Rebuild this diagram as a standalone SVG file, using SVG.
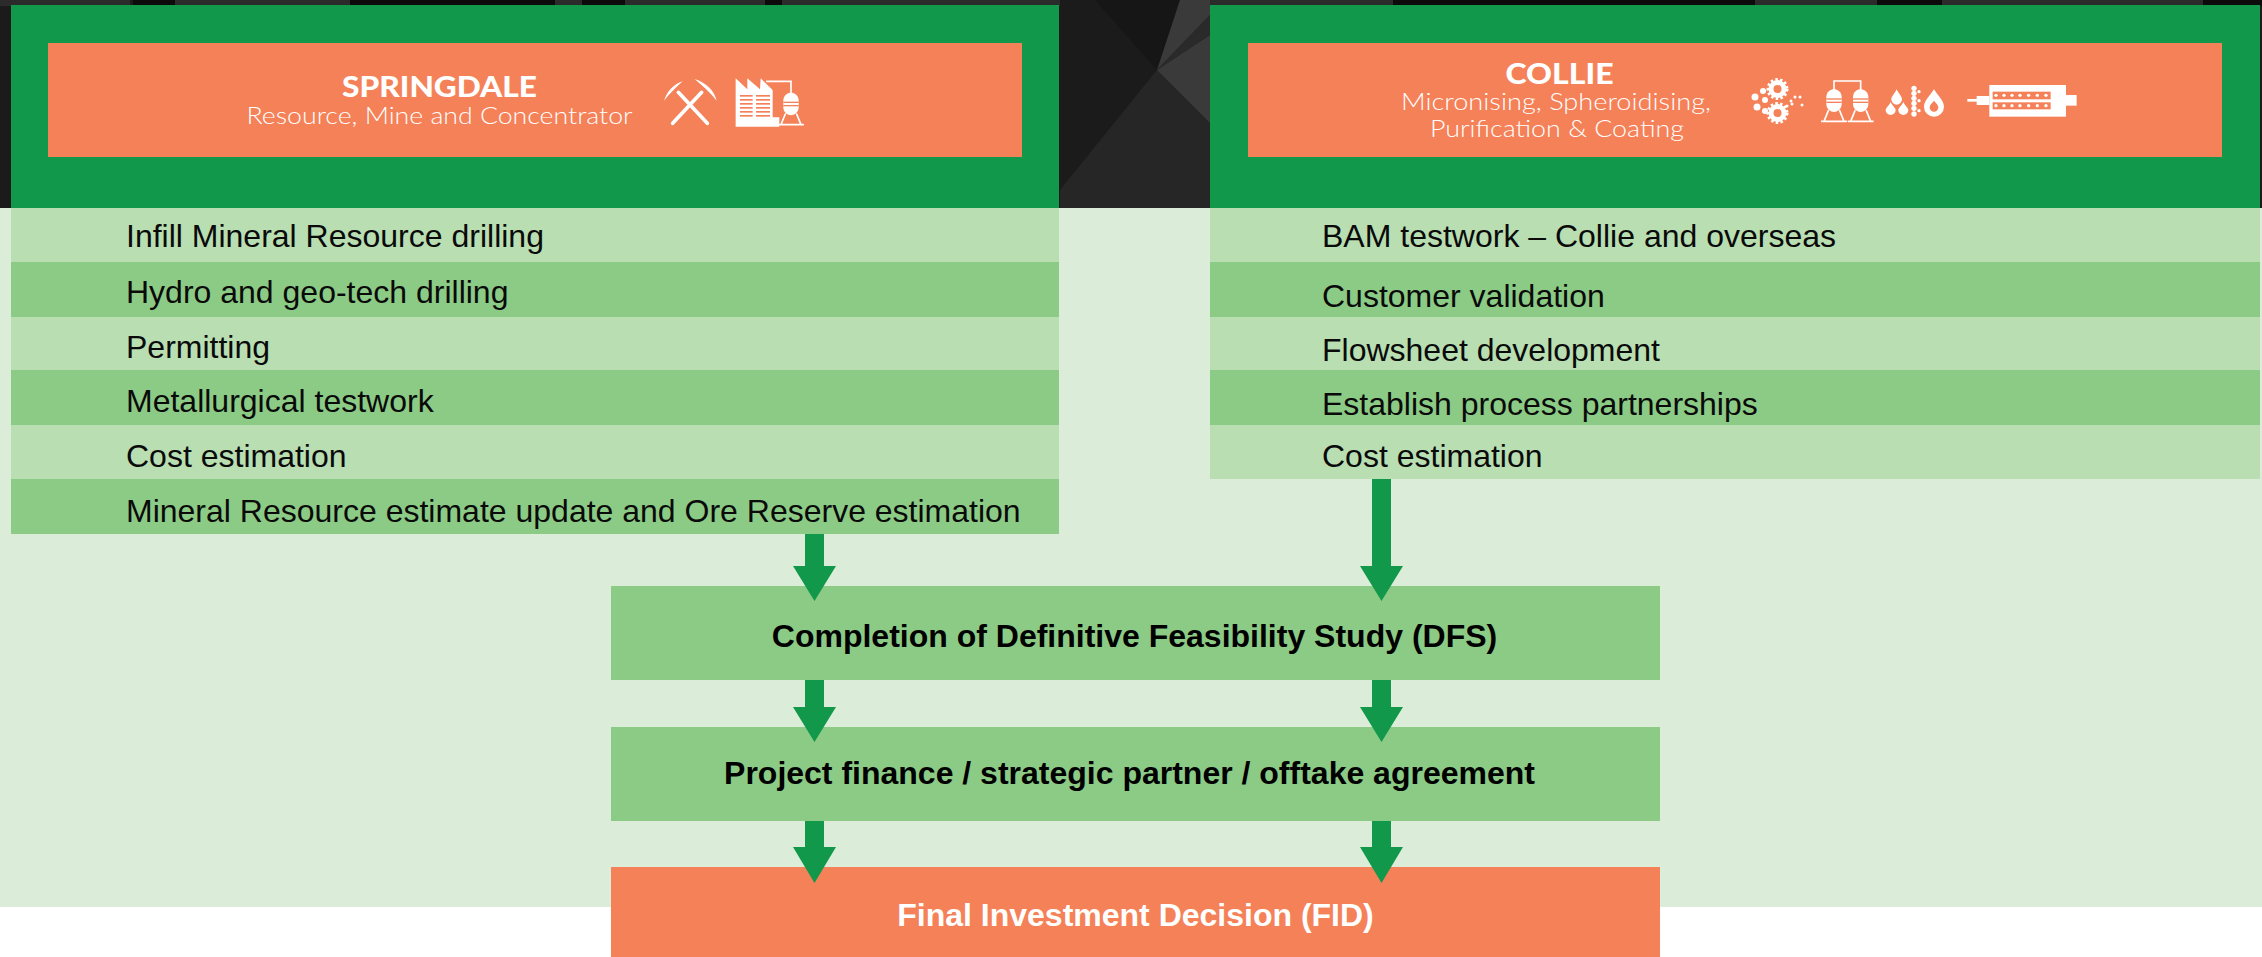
<svg xmlns="http://www.w3.org/2000/svg" width="2262" height="957" viewBox="0 0 2262 957">
<style>
.g{fill:#12984A}.o{fill:#F58158}.l{fill:#B8DEB2}.m{fill:#8CCB85}
.t{font-family:"Liberation Sans",Arial,sans-serif;font-size:32px;fill:#0a0a0a}
.b{font-family:"Liberation Sans",Arial,sans-serif;font-size:32px;font-weight:700;text-anchor:middle;fill:#000}
.h{font-family:Lato,"Open Sans",sans-serif;font-size:28px;font-weight:900;fill:#fff;text-anchor:middle}
.s{font-family:Lato,"Open Sans",sans-serif;font-size:23px;font-weight:300;fill:#fff;text-anchor:middle}
.w{fill:#fff}.ws{fill:none;stroke:#fff;stroke-linecap:round}
.a{fill:#12984A}
</style>
<defs>
<g id="tank"><path class="w" d="M-23 -10C-23 -26 -10 -34 0 -34C10 -34 23 -26 23 -10V10C23 26 10 34 0 34C-10 34 -23 26 -23 10Z"/><rect class="o" x="-23" y="-7" width="46" height="4"/><rect class="o" x="-23" y="3" width="46" height="4"/><path class="ws" stroke-width="5" d="M-17 30L-30 62M17 30L30 62M-37 62H37"/></g>
</defs>
<g id="background">
<rect width="2262" height="957" fill="#fff"/>
<rect width="2262" height="208" fill="#1b1b1b"/>
<g fill="#2b2b2b"><rect width="130" height="6"/><rect x="175" width="175" height="6"/><rect x="555" width="27" height="6"/><rect x="625" width="140" height="6"/><rect x="782" width="278" height="6"/><rect x="1200" width="193" height="6"/><rect x="1755" width="122" height="6"/><rect x="1942" width="261" height="6"/></g>
<g fill="#0c0a0a"><rect x="133" width="42" height="6"/><rect x="350" width="205" height="6"/><rect x="582" width="43" height="6"/><rect x="765" width="17" height="6"/><rect x="1393" width="362" height="6"/><rect x="1877" width="65" height="6"/><rect x="2203" width="59" height="6"/></g>
<polygon points="1060,190 1157,70 1210,123 1210,208 1060,208" fill="#262626"/>
<polygon points="1095,0 1180,0 1157,70" fill="#161616"/>
<polygon points="1180,0 1210,0 1210,15 1157,70" fill="#3a3a3a"/>
<polygon points="1210,15 1210,35 1157,70" fill="#2a2a2a"/>
<polygon points="1210,35 1210,123 1157,70" fill="#3a3a3a"/>
<rect y="208" width="2262" height="699" fill="#DBEDD8"/>
</g>
<g id="springdale">
<rect class="g" x="11" y="5" width="1048" height="203"/>
<rect class="o" x="48" y="43" width="974" height="114"/>
<text class="h" x="439.500" y="97" textLength="195" lengthAdjust="spacingAndGlyphs">SPRINGDALE</text>
<text class="s" x="439.500" y="124" textLength="386" lengthAdjust="spacingAndGlyphs">Resource, Mine and Concentrator</text>
<g transform="translate(620 30) scale(.3333)">
<path class="ws" stroke-width="11" d="M158 280L245 187M262 280L175 187"/>
<path class="w" d="M224 147C258 158 282 180 290 212C272 188 250 170 224 147ZM188 154C162 162 142 182 132 212C150 190 168 172 188 154Z"/>
<polygon class="w" points="347,290 347,145 382,178 382,145 420,178 422,145 458,180 458,262 478,262 478,290"/>
<g class="o"><rect x="360" y="195" width="38" height="5"/><rect x="360" y="207" width="38" height="5"/><rect x="360" y="219" width="38" height="5"/><rect x="360" y="231" width="38" height="5"/><rect x="360" y="243" width="38" height="5"/><rect x="360" y="255" width="38" height="5"/><rect x="408" y="195" width="42" height="5"/><rect x="408" y="207" width="42" height="5"/><rect x="408" y="219" width="42" height="5"/><rect x="408" y="231" width="42" height="5"/><rect x="408" y="243" width="42" height="5"/><rect x="408" y="255" width="42" height="5"/></g>
<path class="ws" stroke-width="5" d="M440 154H513V190"/>
<use href="#tank" transform="translate(513 222)"/>
</g>
</g>
<g id="collie">
<rect class="g" x="1210" y="5" width="1050" height="203"/>
<rect class="o" x="1248" y="43" width="974" height="114"/>
<text class="h" x="1559.500" y="84" textLength="108" lengthAdjust="spacingAndGlyphs">COLLIE</text>
<text class="s" x="1556" y="110" textLength="310" lengthAdjust="spacingAndGlyphs">Micronising, Spheroidising,</text>
<text class="s" x="1557" y="137" textLength="254" lengthAdjust="spacingAndGlyphs">Purification &amp; Coating</text>
<g id="gears">
<circle cx="1777.500" cy="89" r="6.500" fill="none" stroke="#fff" stroke-width="5"/><circle cx="1777.500" cy="89" r="9.500" fill="none" stroke="#fff" stroke-width="3" stroke-dasharray="2.500 2.200"/>
<circle cx="1777.500" cy="113" r="6.500" fill="none" stroke="#fff" stroke-width="5"/><circle cx="1777.500" cy="113" r="9.500" fill="none" stroke="#fff" stroke-width="3" stroke-dasharray="2.500 2.200"/>
<g class="w"><circle cx="1755" cy="97" r="3.500"/><circle cx="1763" cy="91" r="3"/><circle cx="1757" cy="107" r="3.500"/><circle cx="1765" cy="100" r="3"/><circle cx="1765" cy="111" r="3"/><circle cx="1791" cy="101" r="1.500"/><circle cx="1795" cy="97" r="1.500"/><circle cx="1800" cy="97" r="1.500"/><circle cx="1792" cy="104" r="1.500"/><circle cx="1802" cy="105" r="1.500"/><circle cx="1787" cy="106" r="1.500"/></g>
</g>
<g transform="translate(1780 40) scale(.3333)">
<path class="ws" stroke-width="5" d="M162 150V123H242V150"/>
<use href="#tank" transform="translate(162 182)"/>
<use href="#tank" transform="translate(242 182)"/>
<g class="w">
<path d="M350 148C357 162 366 170 366 178A16 16 0 0 1 334 178C334 170 343 162 350 148Z"/>
<path d="M332 186C338 198 347 204 347 210A15 15 0 0 1 317 210C317 204 326 198 332 186Z"/>
<path d="M370 186C376 198 385 204 385 210A15 15 0 0 1 355 210C355 204 364 198 370 186Z"/>
<circle cx="402" cy="145" r="8"/><circle cx="402" cy="160" r="8"/><circle cx="402" cy="175" r="8"/><circle cx="402" cy="190" r="8"/><circle cx="402" cy="205" r="8"/><circle cx="402" cy="222" r="8"/><circle cx="417" cy="155" r="5"/><circle cx="417" cy="182" r="5"/><circle cx="417" cy="212" r="5"/>
<path fill-rule="evenodd" d="M462 148C472 165 492 182 492 200A30 30 0 0 1 432 200C432 182 452 165 462 148ZM462 182C455 190 449 196 449 202A13 13 0 0 0 475 202C475 196 469 190 462 182Z"/>
<rect x="628" y="135" width="230" height="95"/><rect x="590" y="168" width="38" height="27"/><rect x="562" y="177" width="30" height="8"/><rect x="858" y="165" width="32" height="32"/>
</g>
<g class="o"><rect x="638" y="155" width="174" height="23"/><rect x="638" y="187" width="174" height="21"/></g>
<g class="w"><circle cx="648" cy="166" r="5"/><circle cx="672" cy="166" r="5"/><circle cx="696" cy="166" r="5"/><circle cx="720" cy="166" r="5"/><circle cx="746" cy="166" r="5"/><circle cx="772" cy="166" r="5"/><circle cx="798" cy="166" r="5"/><circle cx="648" cy="197" r="5"/><circle cx="672" cy="197" r="5"/><circle cx="696" cy="197" r="5"/><circle cx="720" cy="197" r="5"/><circle cx="746" cy="197" r="5"/><circle cx="772" cy="197" r="5"/><circle cx="798" cy="197" r="5"/></g>
</g>
</g>
<g id="springdale-tasks">
<g id="s1"><rect class="l" x="11" y="208" width="1048" height="54"/><text class="t" x="126" y="247">Infill Mineral Resource drilling</text></g>
<g id="s2"><rect class="m" x="11" y="262" width="1048" height="55"/><text class="t" x="126" y="303">Hydro and geo-tech drilling</text></g>
<g id="s3"><rect class="l" x="11" y="317" width="1048" height="53"/><text class="t" x="126" y="358">Permitting</text></g>
<g id="s4"><rect class="m" x="11" y="370" width="1048" height="55"/><text class="t" x="126" y="412">Metallurgical testwork</text></g>
<g id="s5"><rect class="l" x="11" y="425" width="1048" height="54"/><text class="t" x="126" y="467">Cost estimation</text></g>
<g id="s6"><rect class="m" x="11" y="479" width="1048" height="55"/><text class="t" x="126" y="522">Mineral Resource estimate update and Ore Reserve estimation</text></g>
</g>
<g id="collie-tasks">
<g id="c1"><rect class="l" x="1210" y="208" width="1050" height="54"/><text class="t" x="1322" y="247">BAM testwork – Collie and overseas</text></g>
<g id="c2"><rect class="m" x="1210" y="262" width="1050" height="55"/><text class="t" x="1322" y="307">Customer validation</text></g>
<g id="c3"><rect class="l" x="1210" y="317" width="1050" height="53"/><text class="t" x="1322" y="361">Flowsheet development</text></g>
<g id="c4"><rect class="m" x="1210" y="370" width="1050" height="55"/><text class="t" x="1322" y="415">Establish process partnerships</text></g>
<g id="c5"><rect class="l" x="1210" y="425" width="1050" height="54"/><text class="t" x="1322" y="467">Cost estimation</text></g>
</g>
<g id="dfs"><rect class="m" x="611" y="586" width="1049" height="94"/><text class="b" x="1134.500" y="647">Completion of Definitive Feasibility Study (DFS)</text></g>
<g id="finance"><rect class="m" x="611" y="727" width="1049" height="94"/><text class="b" x="1129.500" y="784">Project finance / strategic partner / offtake agreement</text></g>
<g id="fid"><rect class="o" x="611" y="867" width="1049" height="90"/><text class="b" x="1135.500" y="926" style="fill:#fff">Final Investment Decision (FID)</text></g>
<g id="connectors" class="a">
<polygon points="805,534 824,534 824,566 836,566 814.500,601 793,566 805,566"/>
<polygon points="1372,479 1391,479 1391,566 1403,566 1381.500,601 1360,566 1372,566"/>
<polygon points="805,680 824,680 824,707 836,707 814.500,742 793,707 805,707"/>
<polygon points="1372,680 1391,680 1391,707 1403,707 1381.500,742 1360,707 1372,707"/>
<polygon points="805,821 824,821 824,847 836,847 814.500,883 793,847 805,847"/>
<polygon points="1372,821 1391,821 1391,847 1403,847 1381.500,883 1360,847 1372,847"/>
</g>
</svg>
